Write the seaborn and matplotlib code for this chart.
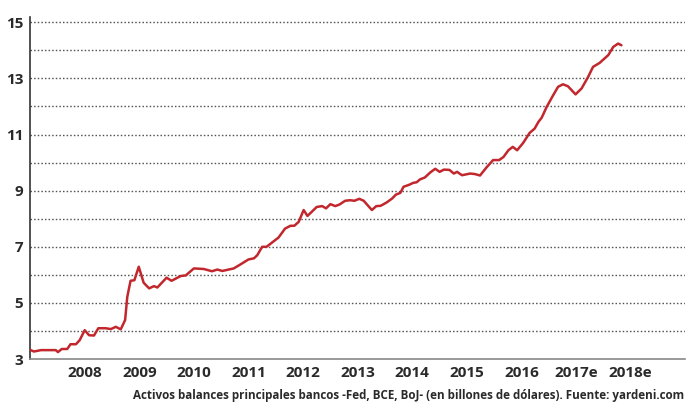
import matplotlib
matplotlib.use("Agg")
import matplotlib.pyplot as plt
import seaborn as sns
import pandas as pd

# decimal year vs. balance sheet assets (trillions USD)
years = [2007.00, 2007.07, 2007.20, 2007.47, 2007.51, 2007.58, 2007.68, 2007.74,
         2007.84, 2007.91, 2008.00, 2008.08, 2008.17, 2008.25, 2008.38, 2008.48,
         2008.57, 2008.66, 2008.74, 2008.78, 2008.84, 2008.91, 2008.99, 2009.08,
         2009.18, 2009.27, 2009.33, 2009.50, 2009.59, 2009.76, 2009.85, 2010.00,
         2010.18, 2010.33, 2010.43, 2010.52, 2010.73, 2010.85, 2011.00, 2011.10,
         2011.16, 2011.25, 2011.33, 2011.55, 2011.67, 2011.77, 2011.84, 2011.92,
         2012.01, 2012.08, 2012.25, 2012.35, 2012.42, 2012.50, 2012.59, 2012.67,
         2012.77, 2012.86, 2012.94, 2013.03, 2013.11, 2013.26, 2013.34, 2013.42,
         2013.53, 2013.63, 2013.70, 2013.78, 2013.84, 2013.93, 2014.02, 2014.08,
         2014.14, 2014.23, 2014.33, 2014.42, 2014.50, 2014.58, 2014.68, 2014.76,
         2014.82, 2014.91, 2015.06, 2015.15, 2015.24, 2015.36, 2015.48, 2015.59,
         2015.67, 2015.76, 2015.84, 2015.92, 2016.03, 2016.15, 2016.24, 2016.31,
         2016.37, 2016.46, 2016.58, 2016.67, 2016.76, 2016.85, 2016.99, 2017.10,
         2017.22, 2017.31, 2017.43, 2017.59, 2017.68, 2017.77, 2017.83]
assets = [3.33, 3.27, 3.32, 3.32, 3.25, 3.36, 3.36, 3.53,
          3.53, 3.68, 4.03, 3.85, 3.84, 4.10, 4.10, 4.07,
          4.15, 4.06, 4.39, 5.22, 5.79, 5.81, 6.29, 5.72,
          5.52, 5.60, 5.55, 5.90, 5.79, 5.96, 5.98, 6.23,
          6.21, 6.13, 6.19, 6.14, 6.23, 6.37, 6.55, 6.59,
          6.70, 7.00, 7.00, 7.33, 7.65, 7.75, 7.75, 7.89,
          8.31, 8.10, 8.42, 8.45, 8.37, 8.52, 8.45, 8.51,
          8.64, 8.66, 8.64, 8.71, 8.64, 8.31, 8.45, 8.46,
          8.58, 8.72, 8.86, 8.92, 9.14, 9.20, 9.28, 9.30,
          9.40, 9.47, 9.65, 9.78, 9.67, 9.75, 9.74, 9.61,
          9.67, 9.55, 9.61, 9.59, 9.54, 9.83, 10.09, 10.09,
          10.20, 10.44, 10.56, 10.44, 10.70, 11.06, 11.21, 11.45,
          11.60, 11.98, 12.40, 12.70, 12.79, 12.72, 12.43, 12.64,
          13.05, 13.41, 13.55, 13.83, 14.12, 14.24, 14.18]

xtick_pos = [2008, 2009, 2010, 2011, 2012, 2013, 2014, 2015, 2016, 2017, 2018]
xtick_labels = ['2008', '2009', '2010', '2011', '2012', '2013', '2014', '2015',
                '2016', '2017e', '2018e']
ytick_labels = [3, 5, 7, 9, 11, 13, 15]
grid_levels = [4, 5, 6, 7, 8, 9, 10, 11, 12, 13, 14, 15]

df = pd.DataFrame({'year': years, 'assets': assets})

sns.set_style("white")
plt.rcParams['font.family'] = ['Open Sans', 'DejaVu Sans']

fig = plt.figure(figsize=(7, 4.09), dpi=100)
ax = fig.add_axes([0.043, 0.122, 0.936, 0.836])

# dotted horizontal grid
for g in grid_levels:
    ax.axhline(g, color='#555555', lw=1.0, ls=(0, (1.1, 1.5)), zorder=1)

sns.lineplot(data=df, x='year', y='assets', color='#c1272d', lw=1.8, ax=ax, zorder=3)

ax.set_xlim(2007.0, 2019.0)
ax.set_ylim(3, 15.18)
ax.set_xlabel('')
ax.set_ylabel('')

ax.set_xticks(xtick_pos)
ax.set_xticklabels(xtick_labels, fontsize=11, fontweight='bold', color='#2a2a2a')
ax.set_yticks(ytick_labels)
ax.set_yticklabels([str(v) for v in ytick_labels], fontsize=11,
                   fontweight='bold', color='#2a2a2a')

ax.tick_params(axis='x', direction='in', length=3, width=1, color='#888888', pad=5)
ax.tick_params(axis='y', direction='out', length=3, width=1, color='#333333', pad=2)

for s in ['top', 'right']:
    ax.spines[s].set_visible(False)
ax.spines['left'].set_color('#333333')
ax.spines['left'].set_linewidth(1.2)
ax.spines['bottom'].set_color('#888888')
ax.spines['bottom'].set_linewidth(1.2)

fig.text(0.977, 0.034,
         'Activos balances principales bancos -Fed, BCE, BoJ- (en billones de dólares). Fuente: yardeni.com',
         ha='right', va='center', fontsize=8.4, fontweight='bold', color='#2a2a2a')

fig.savefig('out.png', dpi=100)
